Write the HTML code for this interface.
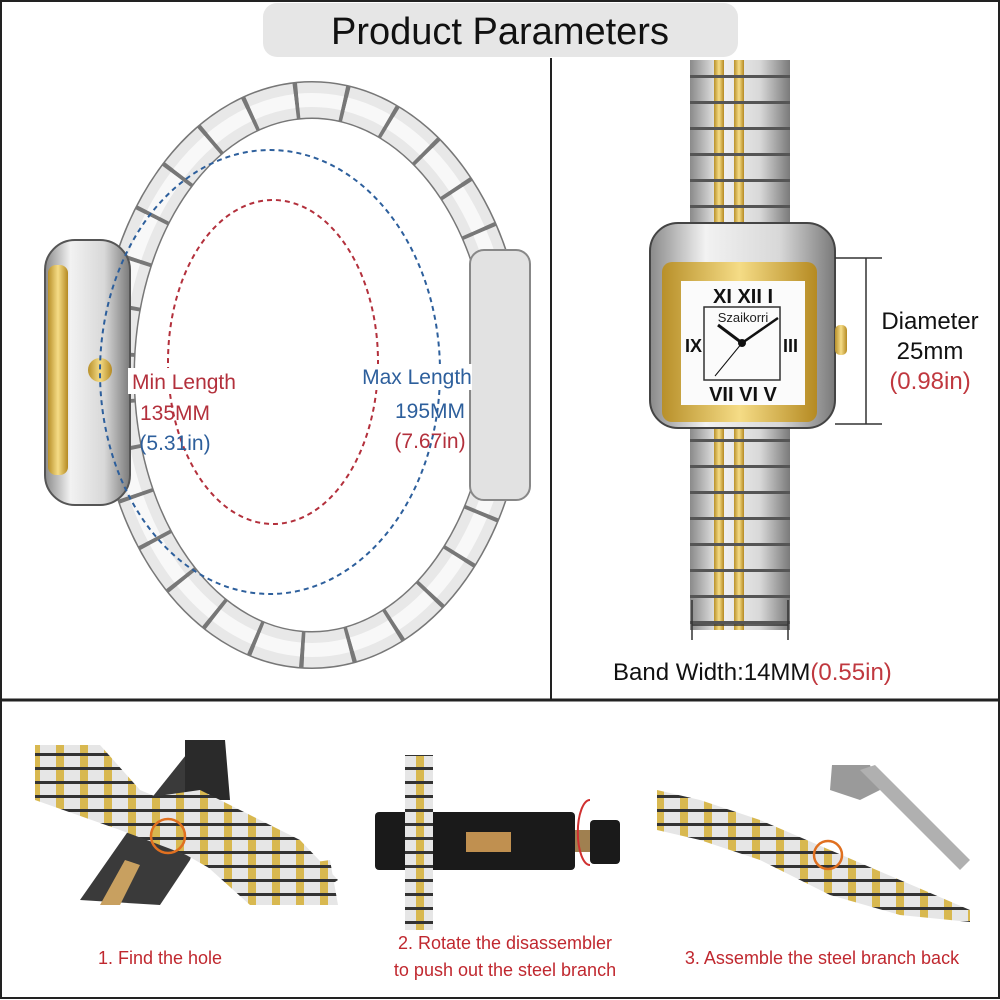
<!DOCTYPE html>
<html><head><meta charset="utf-8"><style>
html,body{margin:0;padding:0;background:#fff}
svg{display:block}
text{font-family:"Liberation Sans",sans-serif}
</style></head><body>
<svg width="1000" height="1000" viewBox="0 0 1000 1000" xmlns="http://www.w3.org/2000/svg">
<defs>
<linearGradient id="silv" x1="0" x2="1"><stop offset="0" stop-color="#8a8a8a"/><stop offset=".3" stop-color="#f2f2f2"/><stop offset=".7" stop-color="#d8d8d8"/><stop offset="1" stop-color="#7a7a7a"/></linearGradient>
<linearGradient id="gold" x1="0" x2="1"><stop offset="0" stop-color="#b8902a"/><stop offset=".5" stop-color="#f5dc86"/><stop offset="1" stop-color="#b58a22"/></linearGradient>
<pattern id="band" width="100" height="26" patternUnits="userSpaceOnUse" x="690">
<rect width="100" height="26" fill="url(#silv)"/>
<rect x="24" width="10" height="26" fill="url(#gold)"/><rect x="44" width="10" height="26" fill="url(#gold)"/>
<rect y="23" width="100" height="3" fill="#555"/>
</pattern>
<pattern id="band2" width="24" height="14" patternUnits="userSpaceOnUse">
<rect width="24" height="14" fill="#e6e6e6"/><rect x="8" y="0" width="8" height="14" fill="#d8b850"/><rect y="11" width="24" height="3" fill="#333"/>
</pattern>
</defs>
<rect x="1" y="1" width="998" height="997" fill="#fff" stroke="#222" stroke-width="2"/>
<line x1="551" y1="58" x2="551" y2="700" stroke="#222" stroke-width="2"/>
<line x1="0" y1="700" x2="1000" y2="700" stroke="#222" stroke-width="3"/>
<rect x="263" y="3" width="475" height="54" rx="14" fill="#e6e6e6"/>
<text x="500" y="44" font-size="38" text-anchor="middle" fill="#111">Product Parameters</text>

<!-- left bracelet -->
<ellipse cx="312" cy="375" rx="196" ry="275" fill="none" stroke="#777" stroke-width="38"/>
<ellipse cx="312" cy="375" rx="196" ry="275" fill="none" stroke="#e8e8e8" stroke-width="35" stroke-dasharray="44 4"/>
<ellipse cx="312" cy="375" rx="196" ry="275" fill="none" stroke="#f8f8f8" stroke-width="14" stroke-dasharray="44 4"/>
<rect x="470" y="250" width="60" height="250" rx="14" fill="#e2e2e2" stroke="#888" stroke-width="2"/>
<rect x="45" y="240" width="85" height="265" rx="30" fill="url(#silv)" stroke="#555" stroke-width="2"/>
<rect x="48" y="265" width="20" height="210" rx="8" fill="url(#gold)"/>
<circle cx="100" cy="370" r="12" fill="url(#gold)"/>
<ellipse cx="270" cy="372" rx="170" ry="222" fill="none" stroke="#2d5f9c" stroke-width="2" stroke-dasharray="5 4"/>
<ellipse cx="273" cy="362" rx="105" ry="162" fill="none" stroke="#b3303c" stroke-width="2" stroke-dasharray="5 4"/>
<rect x="128" y="368" width="112" height="26" fill="#fff"/>
<rect x="360" y="364" width="112" height="26" fill="#fff"/>
<text x="184" y="389" font-size="21" fill="#b3303c" text-anchor="middle">Min Length</text>
<text x="175" y="420" font-size="21" fill="#b3303c" text-anchor="middle">135MM</text>
<text x="175" y="450" font-size="21" fill="#2d5f9c" text-anchor="middle">(5.31in)</text>
<text x="417" y="384" font-size="21" fill="#2d5f9c" text-anchor="middle">Max Length</text>
<text x="430" y="418" font-size="21" fill="#2d5f9c" text-anchor="middle">195MM</text>
<text x="430" y="448" font-size="21" fill="#b3303c" text-anchor="middle">(7.67in)</text>

<!-- right watch -->
<rect x="690" y="60" width="100" height="175" fill="url(#band)"/>
<rect x="690" y="420" width="100" height="210" fill="url(#band)"/>
<rect x="650" y="223" width="185" height="205" rx="28" fill="url(#silv)" stroke="#444" stroke-width="2"/>
<rect x="835" y="325" width="12" height="30" rx="5" fill="url(#gold)"/>
<rect x="662" y="262" width="155" height="160" rx="10" fill="url(#gold)"/>
<rect x="681" y="281" width="124" height="124" fill="#fbfbfb"/>
<rect x="704" y="307" width="76" height="73" fill="none" stroke="#333" stroke-width="1.5"/>
<text x="743" y="322" font-size="13" font-family="Liberation Serif" text-anchor="middle" fill="#222">Szaikorri</text>
<text x="743" y="303" font-size="20" font-family="Liberation Serif" font-weight="bold" text-anchor="middle" fill="#111">XI XII I</text>
<text x="743" y="401" font-size="20" font-family="Liberation Serif" font-weight="bold" text-anchor="middle" fill="#111">VII VI V</text>
<text x="685" y="352" font-size="18" font-family="Liberation Serif" font-weight="bold" fill="#111">IX</text>
<text x="783" y="352" font-size="18" font-family="Liberation Serif" font-weight="bold" fill="#111">III</text>
<line x1="742" y1="343" x2="718" y2="325" stroke="#111" stroke-width="3"/>
<line x1="742" y1="343" x2="778" y2="318" stroke="#111" stroke-width="2.5"/>
<line x1="742" y1="343" x2="715" y2="376" stroke="#111" stroke-width="1"/>
<circle cx="742" cy="343" r="4" fill="#111"/>
<line x1="866" y1="258" x2="866" y2="424" stroke="#333" stroke-width="1.5"/>
<line x1="835" y1="258" x2="882" y2="258" stroke="#333" stroke-width="1.5"/>
<line x1="835" y1="424" x2="882" y2="424" stroke="#333" stroke-width="1.5"/>
<line x1="692" y1="625" x2="788" y2="625" stroke="#333" stroke-width="1.5"/>
<line x1="692" y1="600" x2="692" y2="640" stroke="#333" stroke-width="1.5"/>
<line x1="788" y1="600" x2="788" y2="640" stroke="#333" stroke-width="1.5"/>
<text x="930" y="329" font-size="24" text-anchor="middle" fill="#111">Diameter</text>
<text x="930" y="359" font-size="24" text-anchor="middle" fill="#111">25mm</text>
<text x="930" y="389" font-size="24" text-anchor="middle" fill="#c0383f">(0.98in)</text>
<text x="613" y="680" font-size="24" fill="#111">Band Width:14MM<tspan fill="#c0383f">(0.55in)</tspan></text>

<!-- step 1 -->
<g>
<polygon points="80,900 150,800 190,750 225,750 190,860 160,905" fill="#3a3a3a"/>
<polygon points="185,740 225,740 230,800 185,800" fill="#2a2a2a"/>
<polygon points="35,745 100,745 140,790 200,815 230,850 260,870 330,860 338,905 250,905 200,860 120,830 35,800" fill="url(#band2)"/>
<polygon points="130,800 200,790 300,840 338,880 300,905 230,880 160,840" fill="url(#band2)"/>
<polygon points="100,905 125,860 140,865 120,905" fill="#c8a060"/>
<circle cx="168" cy="836" r="17" fill="none" stroke="#e07020" stroke-width="2.5"/>
</g>
<!-- step 2 -->
<g>
<rect x="375" y="812" width="200" height="58" rx="4" fill="#1a1a1a"/>
<rect x="575" y="830" width="20" height="22" fill="#a08050"/>
<rect x="590" y="820" width="30" height="44" rx="4" fill="#1a1a1a"/>
<rect x="466" y="832" width="45" height="20" fill="#c09050"/>
<rect x="405" y="755" width="28" height="175" fill="url(#band2)"/>
<path d="M590 800 A12 32 0 0 0 590 865" fill="none" stroke="#d03030" stroke-width="2"/>
</g>
<!-- step 3 -->
<g>
<polygon points="657,790 700,800 760,820 830,850 900,880 970,910 970,922 900,915 830,895 760,860 700,840 657,830" fill="url(#band2)"/>
<polygon points="832,765 870,765 880,790 860,800 830,790" fill="#9a9a9a"/>
<polygon points="860,770 875,765 970,860 960,870" fill="#b0b0b0"/>
<circle cx="828" cy="855" r="14" fill="none" stroke="#e07020" stroke-width="2.5"/>
</g>
<text x="160" y="964" font-size="18" text-anchor="middle" fill="#c0282f">1. Find the hole</text>
<text x="505" y="949" font-size="18" text-anchor="middle" fill="#c0282f">2. Rotate the disassembler</text>
<text x="505" y="976" font-size="18" text-anchor="middle" fill="#c0282f">to push out the steel branch</text>
<text x="822" y="964" font-size="18" text-anchor="middle" fill="#c0282f">3. Assemble the steel branch back</text>
</svg>
</body></html>
